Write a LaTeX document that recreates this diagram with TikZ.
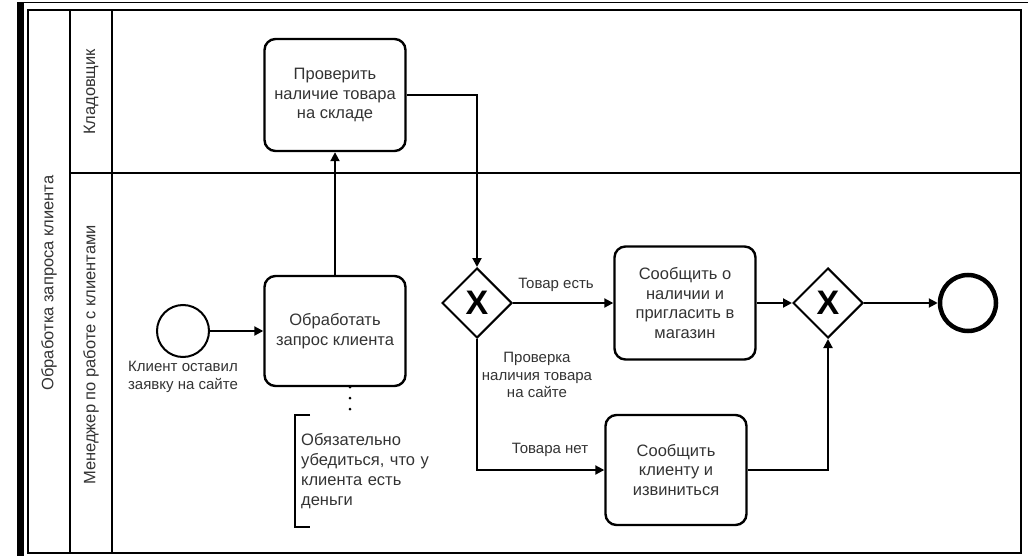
\documentclass[tikz,border=0pt]{standalone}
\usepackage{fontspec}
\setmainfont{Liberation Sans}
\usetikzlibrary{arrows.meta,shapes.geometric,positioning,calc}
\definecolor{txt}{HTML}{333333}

\begin{document}
\begin{tikzpicture}[
    x=1pt, y=-1pt,
    font=\fontsize{16.5}{19.5}\selectfont,
    task/.style={rectangle, rounded corners=11pt, draw, line width=2.4pt, minimum width=141pt, minimum height=110pt, align=center, text=txt},
    gate/.style={diamond, draw, line width=2pt, minimum width=70pt, minimum height=70pt, inner sep=0pt, font=\fontsize{34}{34}\selectfont\bfseries},
    startev/.style={circle, draw, line width=2pt, minimum size=52pt, inner sep=0pt},
    endev/.style={circle, draw, line width=4.5pt, minimum size=56pt, inner sep=0pt},
    lbl/.style={font=\fontsize{15}{17.5}\selectfont, align=center, text=txt, inner sep=1pt},
    lanelbl/.style={rotate=90, font=\fontsize{16.5}{19}\selectfont, text=txt},
    flow/.style={-{Triangle[length=9pt,width=9pt]}, line width=2pt},
    lane/.style={line width=2.5pt}
]
\useasboundingbox (0,0) rectangle (1030,556);

% Frame and lanes
\fill (17,3) rectangle (24,556);
\draw[line width=1pt] (17,3) -- (1028,3);
\draw[lane] (28,10) rectangle (1021,553);
\draw[lane] (70,10) -- (70,553);
\draw[lane] (112,10) -- (112,553);
\draw[lane] (70,173) -- (1021,173);

\node[lanelbl] (pool_lbl) at (49,283) {Обработка запроса клиента};
\node[lanelbl] (lane_store) at (91,92) {Кладовщик};
\node[lanelbl] (lane_mgr) at (91,355) {Менеджер по работе с клиентами};

% Events
\node[startev] (start) at (183,331) {};
\node[lbl, below=2pt of start] (start_lbl) {Клиент оставил\\заявку на сайте};
\node[endev] (end) at (968,303) {};

% Tasks
\node[task] (t_process) at (335,331) {Обработать\\запрос клиента};
\node[task, minimum height=112pt] (t_check) at (335,95) {Проверить\\наличие товара\\на складе};
\node[task, minimum height=113pt] (t_inform) at (685,303) {Сообщить о\\наличии и\\пригласить в\\магазин};
\node[task] (t_sorry) at (676,470) {Сообщить\\клиенту и\\извиниться};

% Gateways
\node[gate] (g_split) at (477,303) {X};
\node[gate] (g_merge) at (828,303) {X};

% Labels
\node[lbl] (yes_lbl) at (556,285) {Товар есть};
\node[lbl] (no_lbl) at (550,450) {Товара нет};
\node[lbl] (split_lbl) at (537,375) {Проверка\\наличия товара\\на сайте};

% Annotation
\node[anchor=west, align=left, text=txt, text width=150pt, minimum height=112pt, inner xsep=6pt,
      font=\fontsize{16.5}{20}\selectfont] (note) at (295,471) {Обязательно\\убедиться, что у\\клиента есть\\деньги};
\draw[line width=2pt] ([xshift=15pt]note.north west) -- (note.north west) -- (note.south west) -- ([xshift=15pt]note.south west);
\coordinate (assoc_x) at (350,0);
\draw[line width=3pt, line cap=round, dash pattern=on 0pt off 11pt] (t_process.south -| assoc_x) -- (note.north -| assoc_x);

% Sequence flows
\draw[flow] (start) -- (t_process);
\draw[flow] (t_process) -- (t_check);
\draw[flow] (t_check.east) -| (g_split.north);
\draw[flow] (g_split) -- (t_inform);
\draw[flow] (g_split.south) |- (t_sorry.west);
\draw[flow] (t_inform) -- (g_merge);
\draw[flow] (t_sorry.east) -| (g_merge.south);
\draw[flow] (g_merge) -- (end);

\end{tikzpicture}
\end{document}
